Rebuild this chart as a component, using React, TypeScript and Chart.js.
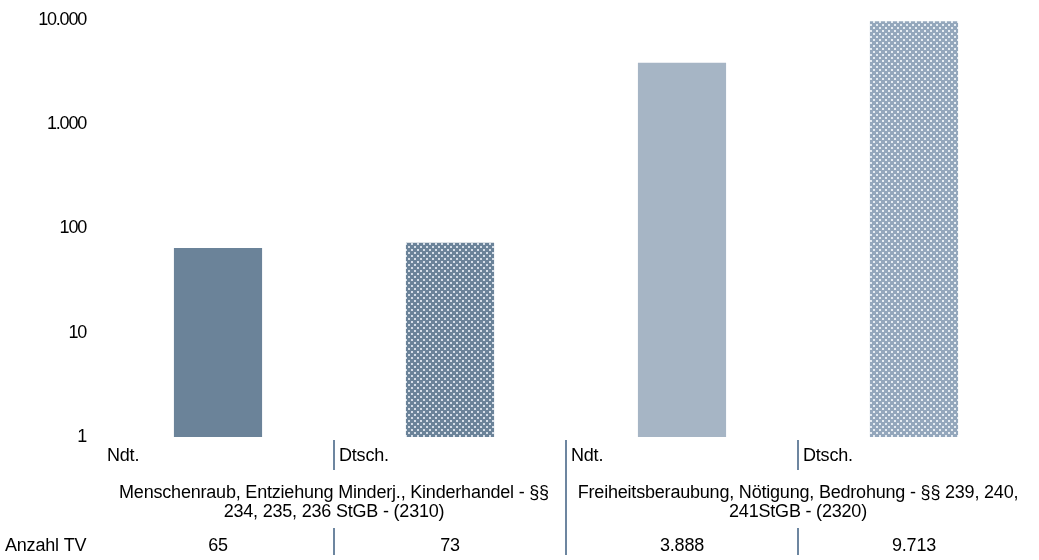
import React, { useEffect, useRef } from "react";
import { Chart, registerables } from "chart.js";

Chart.register(...registerables);

const categories = ["Ndt.", "Dtsch.", "Ndt.", "Dtsch."];
const values = [65, 73, 3888, 9713];
const valueLabels = ["65", "73", "3.888", "9.713"];
const groupLabels = [
  ["Menschenraub, Entziehung Minderj., Kinderhandel - §§", "234, 235, 236 StGB - (2310)"],
  ["Freiheitsberaubung, Nötigung, Bedrohung - §§ 239, 240,", "241StGB - (2320)"],
];
const rowTitle = "Anzahl TV";
const yTicks = [1, 10, 100, 1000, 10000];

const FONT = "'Liberation Sans', Arial, sans-serif";
const SEP = "#6d86a0";

function makePattern(base: string, dot: string): CanvasPattern | string {
  const c = document.createElement("canvas");
  c.width = 6;
  c.height = 6;
  const g = c.getContext("2d");
  if (!g) return base;
  g.fillStyle = base;
  g.fillRect(0, 0, 6, 6);
  g.fillStyle = dot;
  g.fillRect(0, 0, 2, 2);
  g.fillRect(3, 3, 2, 2);
  const p = g.createPattern(c, "repeat");
  return p || base;
}

function fmt(v: number): string {
  return String(v).replace(/\B(?=(\d{3})+(?!\d))/g, ".");
}

const tablePlugin = {
  id: "tablePlugin",
  beforeDraw(chart: any) {
    chart.ctx.letterSpacing = "-1.2px";
  },
  afterDraw(chart: any) {
    const ctx = chart.ctx as CanvasRenderingContext2D;
    const x = chart.scales.x;
    const area = chart.chartArea;
    const n = categories.length;
    const w = (area.right - area.left) / n;
    ctx.save();
    ctx.letterSpacing = "-0.2px";
    ctx.fillStyle = "#000";
    ctx.font = `18px ${FONT}`;
    ctx.textBaseline = "middle";
    const row1 = 456;
    const row2a = 493;
    const row2b = 512;
    const row3 = 546;
    for (let i = 0; i < n; i++) {
      const left = x.getPixelForValue(i) - w / 2;
      ctx.textAlign = "left";
      ctx.fillText(categories[i], left + 5, row1);
      ctx.textAlign = "center";
      ctx.fillText(valueLabels[i], x.getPixelForValue(i), row3);
    }
    for (let g = 0; g < groupLabels.length; g++) {
      const cx = (x.getPixelForValue(g * 2) + x.getPixelForValue(g * 2 + 1)) / 2;
      ctx.textAlign = "center";
      ctx.fillText(groupLabels[g][0], cx, row2a);
      ctx.fillText(groupLabels[g][1], cx, row2b);
    }
    ctx.textAlign = "left";
    ctx.fillText(rowTitle, 5, row3);
    ctx.strokeStyle = SEP;
    ctx.lineWidth = 2;
    for (let i = 1; i < n; i++) {
      const sx = Math.round(x.getPixelForValue(i) - w / 2);
      ctx.beginPath();
      if (i === 2) {
        ctx.moveTo(sx, 440);
        ctx.lineTo(sx, 555);
      } else {
        ctx.moveTo(sx, 440);
        ctx.lineTo(sx, 470);
        ctx.moveTo(sx, 528);
        ctx.lineTo(sx, 555);
      }
      ctx.stroke();
    }
    ctx.restore();
  },
};

export default function App() {
  const ref = useRef<HTMLCanvasElement>(null);
  useEffect(() => {
    document.body.style.margin = "0";
    if (!ref.current) return;
    const colors = [
      "#6b8399",
      makePattern("#6b8399", "#d6dee8"),
      "#a6b5c5",
      makePattern("#94a7bc", "#e6ecf2"),
    ];
    const chart = new Chart(ref.current, {
      type: "bar",
      data: {
        labels: categories,
        datasets: [
          {
            data: values,
            backgroundColor: colors as any,
            borderWidth: 0,
            categoryPercentage: 1,
            barPercentage: 0.38,
          },
        ],
      },
      options: {
        animation: false,
        responsive: false,
        maintainAspectRatio: false,
        layout: { padding: { top: 20, bottom: 123, right: 9, left: 0 } },
        plugins: { legend: { display: false }, tooltip: { enabled: false } },
        scales: {
          x: { display: false, offset: true },
          y: {
            type: "logarithmic",
            min: 1,
            max: 10000,
            grid: { display: false, drawTicks: false },
            border: { display: false },
            afterBuildTicks: (s: any) => {
              s.ticks = yTicks.map((v) => ({ value: v }));
            },
            afterFit: (s: any) => {
              s.width = 102;
              s.paddingTop = 0;
              s.paddingBottom = 0;
            },
            ticks: {
              color: "#000",
              padding: 16,
              font: { family: FONT, size: 18 },
              callback: (v: any) => fmt(Number(v)),
            },
          },
        },
      },
      plugins: [tablePlugin],
    });
    return () => chart.destroy();
  }, []);
  return <canvas ref={ref} width={1039} height={560} style={{ display: "block" }} />;
}
